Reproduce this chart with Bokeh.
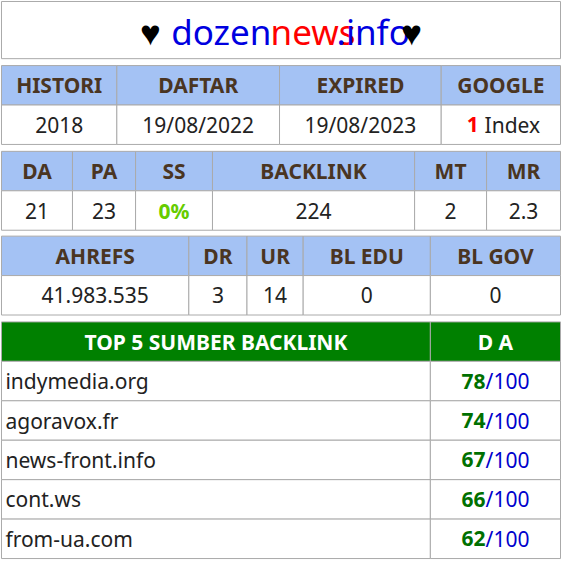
from bokeh.plotting import figure
from bokeh.models import Range1d
from bokeh.core.properties import value
from bokeh.embed import file_html
from bokeh.resources import INLINE

# table 1
t1_heads = ["HISTORI", "DAFTAR", "EXPIRED", "GOOGLE"]
t1_vals = ["2018", "19/08/2022", "19/08/2023", ""]
google_index = "1"
# table 2
t2_heads = ["DA", "PA", "SS", "BACKLINK", "MT", "MR"]
t2_vals = ["21", "23", "", "224", "2", "2.3"]
ss_value = "0%"
# table 3
t3_heads = ["AHREFS", "DR", "UR", "BL EDU", "BL GOV"]
t3_vals = ["41.983.535", "3", "14", "0", "0"]
# top backlinks
top_title = ["TOP 5 SUMBER BACKLINK", "D A"]
domains = ["indymedia.org", "agoravox.fr", "news-front.info", "cont.ws", "from-ua.com"]
da_scores = [78, 74, 67, 66, 62]

FONT = value("Noto Sans")
SIZE = "21px"
HEAD_BG = "#a4c2f4"
BORDER = "#aaaaaa"
HEAD_TXT = "#4a3522"
BODY_TXT = "#222222"

p = figure(width=561, height=561, output_backend="svg", toolbar_location=None,
           x_range=Range1d(4, 573), y_range=Range1d(573, 4), min_border=0)
p.axis.visible = False
p.grid.visible = False
p.outline_line_color = None


def cells(edges, top, bottom, fill):
    p.quad(left=edges[:-1], right=edges[1:], top=[top] * (len(edges) - 1),
           bottom=[bottom] * (len(edges) - 1), fill_color=fill,
           line_color=BORDER, line_width=1)


def labels(edges, y, texts, color, bold=False):
    xs = [(a + b) / 2 for a, b in zip(edges[:-1], edges[1:])]
    p.text(x=xs, y=[y] * len(texts), text=texts, text_align="center",
           text_baseline="middle", text_color=color, text_font=FONT,
           text_font_size=SIZE, text_font_style="bold" if bold else "normal")


def table(edges, top, heads, vals):
    cells(edges, top, top + 40, HEAD_BG)
    cells(edges, top + 40, top + 80, "white")
    labels(edges, top + 20, heads, HEAD_TXT, bold=True)
    labels(edges, top + 60, vals, BODY_TXT)


# title box
p.quad(left=[5], right=[572], top=[5], bottom=[63], fill_color="white", line_color=BORDER)
parts = [("♥", "black", 156), ("dozen", "#0000e0", 228), ("news", "#ff0000", 321),
         (".info", "#0000e0", 382), ("♥", "black", 421)]
for t, c, x in parts:
    p.text(x=[x], y=[35], text=[t], text_align="center", text_baseline="middle",
           text_color=c, text_font=FONT, text_font_size="35px")

e1 = [5, 122, 287, 451, 572]
table(e1, 70, t1_heads, t1_vals)
p.text(x=[489], y=[130], text=[google_index], text_align="right", text_baseline="middle",
       text_color="#ff0000", text_font=FONT, text_font_size=SIZE, text_font_style="bold")
p.text(x=[495], y=[130], text=["Index"], text_align="left", text_baseline="middle",
       text_color=BODY_TXT, text_font=FONT, text_font_size=SIZE)

e2 = [5, 77, 141, 219, 424, 497, 572]
table(e2, 157, t2_heads, t2_vals)
p.text(x=[180], y=[217], text=[ss_value], text_align="center", text_baseline="middle",
       text_color="#66cc00", text_font=FONT, text_font_size=SIZE, text_font_style="bold")

e3 = [5, 195, 254, 311, 440, 572]
table(e3, 243, t3_heads, t3_vals)

e4 = [5, 440, 572]
cells(e4, 330, 370, "#008000")
labels(e4, 350, top_title, "white", bold=True)
for i, (d, s) in enumerate(zip(domains, da_scores)):
    y0 = 370 + 40 * i
    cells(e4, y0, y0 + 40, "white")
    p.text(x=[9], y=[y0 + 20], text=[d], text_align="left", text_baseline="middle",
           text_color=BODY_TXT, text_font=FONT, text_font_size=SIZE)
    p.text(x=[496], y=[y0 + 20], text=[str(s)], text_align="right", text_baseline="middle",
           text_color="#007000", text_font=FONT, text_font_size=SIZE, text_font_style="bold")
    p.text(x=[496], y=[y0 + 20], text=["/100"], text_align="left", text_baseline="middle",
           text_color="#0000cc", text_font=FONT, text_font_size=SIZE)

open("out.html", "w").write(file_html(p, INLINE))
